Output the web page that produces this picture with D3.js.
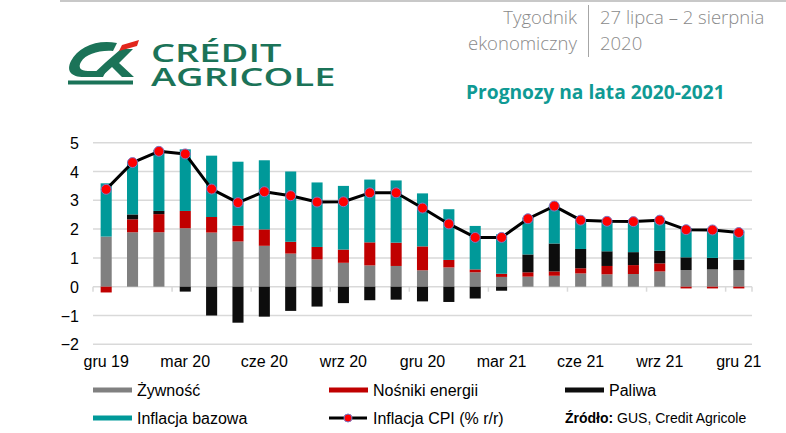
<!DOCTYPE html>
<html>
<head>
<meta charset="utf-8">
<script src="https://cdn.jsdelivr.net/npm/d3@7/dist/d3.min.js"></script>
<style>
  html, body { margin: 0; padding: 0; background: #fff; }
  svg { display: block; }
</style>
</head>
<body>
<svg id="chart" width="786" height="433"></svg>
<script>
// ---------------- DATA ----------------
const months = ["gru 19","sty 20","lut 20","mar 20","kwi 20","maj 20","cze 20","lip 20","sie 20","wrz 20","paź 20","lis 20","gru 20","sty 21","lut 21","mar 21","kwi 21","maj 21","cze 21","lip 21","sie 21","wrz 21","paź 21","lis 21","gru 21"];
const tickLabels = ["gru 19","mar 20","cze 20","wrz 20","gru 20","mar 21","cze 21","wrz 21","gru 21"];
const yTicks = [-2,-1,0,1,2,3,4,5];

const food   = [1.74,1.89,1.89,2.03,1.88,1.57,1.42,1.15,0.95,0.83,0.74,0.72,0.57,0.67,0.50,0.34,0.35,0.38,0.46,0.43,0.44,0.53,0.58,0.60,0.57];
const energy = [-0.20,0.45,0.63,0.60,0.54,0.55,0.57,0.41,0.43,0.46,0.80,0.81,0.83,0.26,0.10,0.11,0.15,0.15,0.18,0.29,0.31,0.28,-0.06,-0.06,-0.06];
const fuel   = [0,0.17,0.11,-0.17,-1.00,-1.25,-1.04,-0.84,-0.69,-0.57,-0.47,-0.45,-0.51,-0.53,-0.41,-0.14,0.62,0.97,0.67,0.51,0.45,0.44,0.44,0.40,0.37];
const core   = [1.85,1.83,2.12,2.14,2.13,2.22,2.40,2.44,2.24,2.21,2.18,2.16,1.84,1.76,1.51,1.37,1.28,1.32,1.00,1.04,1.06,1.05,1.02,1.03,1.01];
const cpi    = [3.38,4.31,4.70,4.61,3.39,2.92,3.30,3.16,2.94,2.95,3.26,3.26,2.73,2.18,1.71,1.71,2.36,2.80,2.31,2.27,2.26,2.31,1.98,1.97,1.88];

const seriesKeys   = ["food","energy","fuel","core"];
const seriesNames  = ["Żywność","Nośniki energii","Paliwa","Inflacja bazowa"];
const seriesColors = ["#808080","#c00000","#0d0d0d","#009999"];
const cpiName = "Inflacja CPI (% r/r)";

// ---------------- SETUP ----------------
const svg = d3.select("#chart");
const font = "'Liberation Sans', Arial, sans-serif";

const rows = months.map((m, i) => ({ month: m, food: food[i], energy: energy[i], fuel: fuel[i], core: core[i], cpi: cpi[i] }));

const x = d3.scaleBand().domain(months).range([93, 752]).paddingInner(0.58).paddingOuter(0.29);
const y = d3.scaleLinear().domain([-2, 5]).range([344.3, 142.7]);

// ---------------- HEADER ----------------
svg.append("line").attr("x1", 60).attr("x2", 786).attr("y1", 1).attr("y2", 1)
  .attr("stroke", "#c8c8c8").attr("stroke-width", 2);

const hdrFont = "'Open Sans', 'Noto Sans', sans-serif";
const hdr = svg.append("g").attr("font-family", hdrFont).attr("font-size", 18.5).attr("font-weight", 300).attr("fill", "#8a8a8a");
hdr.append("text").attr("x", 577).attr("y", 24).attr("text-anchor", "end").text("Tygodnik");
hdr.append("text").attr("x", 577).attr("y", 50).attr("text-anchor", "end").text("ekonomiczny");
hdr.append("text").attr("x", 600).attr("y", 24).text("27 lipca – 2 sierpnia");
hdr.append("text").attr("x", 600).attr("y", 50).text("2020");
svg.append("line").attr("x1", 588.5).attr("x2", 588.5).attr("y1", 5).attr("y2", 57)
  .attr("stroke", "#a6a6a6").attr("stroke-width", 1);

svg.append("text").attr("x", 466).attr("y", 99)
  .attr("font-family", hdrFont).attr("font-size", 19.2).attr("font-weight", 700)
  .attr("fill", "#0f9a94").text("Prognozy na lata 2020-2021");

// Logo
const logo = svg.append("g");
const green = "#1b7358";
logo.append("rect").attr("x", 68).attr("y", 80.5).attr("width", 65).attr("height", 4).attr("fill", green);
// C swoosh
logo.append("path").attr("fill", green)
  .attr("d", "M117,43 C97,39 78,47 71,61 C66,71 71,77 84,77 L103,77 L106,71 L88,71 C80,71 78,67 81,62 C86,54 99,50 113,51 Z");
// A strokes
logo.append("path").attr("fill", green)
  .attr("d", "M121,49 L133,49 L119,63 L134,77 L122,77 L112,67 L101,77 L90,77 L106,62 Z");
// red stripe
logo.append("path").attr("fill", "#e2261c")
  .attr("d", "M122,45 L139,40 L137,46 L119,51 Z");
const sx = 1.52;
const logoText = logo.append("text")
  .attr("transform", `scale(${sx},1)`)
  .attr("font-family", "'Open Sans', 'Noto Sans', sans-serif")
  .attr("font-weight", 600).attr("font-size", 25).attr("fill", green);
logoText.append("tspan").attr("x", 151 / sx).attr("y", 62).text("CRÉDIT");
logoText.append("tspan").attr("x", 151 / sx).attr("y", 86).text("AGRICOLE");

// ---------------- GRID + Y AXIS ----------------
const grid = svg.append("g");
grid.selectAll("line").data(yTicks).join("line")
  .attr("x1", 93).attr("x2", 752)
  .attr("y1", d => y(d)).attr("y2", d => y(d))
  .attr("stroke", "#d9d9d9").attr("stroke-width", 1.5);

const yAxis = d3.axisLeft(y).tickValues(yTicks).tickSize(0).tickPadding(0).tickFormat(d3.format("d"));
const yG = svg.append("g").attr("transform", "translate(79,0)").call(yAxis);
yG.select(".domain").remove();
yG.selectAll("text").attr("font-family", font).attr("font-size", 16).attr("fill", "#000").attr("dy", "0.35em");

// ---------------- BARS ----------------
const stack = d3.stack().keys(seriesKeys).offset(d3.stackOffsetDiverging);
const stacked = stack(rows);

svg.append("g").selectAll("g").data(stacked).join("g")
  .attr("fill", (d, i) => seriesColors[i])
  .selectAll("rect").data(d => d).join("rect")
  .attr("x", d => x(d.data.month))
  .attr("width", x.bandwidth())
  .attr("y", d => y(Math.max(d[0], d[1])))
  .attr("height", d => Math.abs(y(d[0]) - y(d[1])));

// zero-axis ticks at band boundaries every 3 months
const step = x.step();
const boundaryTicks = months.map((m, i) => i).filter(i => i % 3 === 0).map(i => x(months[i]) - x.paddingInner() * step / 2);
boundaryTicks.push(752);
svg.append("g").selectAll("line").data(boundaryTicks).join("line")
  .attr("x1", d => d).attr("x2", d => d)
  .attr("y1", y(0)).attr("y2", y(0) + 5)
  .attr("stroke", "#d9d9d9").attr("stroke-width", 1.5);

// ---------------- X AXIS LABELS ----------------
const xAxis = d3.axisBottom(x).tickValues(tickLabels).tickSize(0).tickPadding(0);
const xG = svg.append("g").attr("transform", "translate(0,355)").call(xAxis);
xG.select(".domain").remove();
xG.selectAll("text").attr("font-family", font).attr("font-size", 16).attr("fill", "#000").attr("dy", "0.78em");

// ---------------- CPI LINE ----------------
const cx = d => x(d.month) + x.bandwidth() / 2;
svg.append("path").datum(rows)
  .attr("fill", "none").attr("stroke", "#000").attr("stroke-width", 3).attr("stroke-linejoin", "round")
  .attr("d", d3.line().x(cx).y(d => y(d.cpi)));
svg.append("g").selectAll("circle").data(rows).join("circle")
  .attr("cx", cx).attr("cy", d => y(d.cpi)).attr("r", 5)
  .attr("fill", "#ff0000").attr("stroke", "#7a7ac8").attr("stroke-width", 1);

// ---------------- LEGEND ----------------
const leg = svg.append("g").attr("font-family", font).attr("font-size", 16).attr("fill", "#000");
const legItems = [
  { i: 0, x: 93, y: 390 },
  { i: 1, x: 329, y: 390 },
  { i: 2, x: 565, y: 390 },
  { i: 3, x: 93, y: 418 }
];
legItems.forEach(it => {
  leg.append("rect").attr("x", it.x).attr("y", it.y - 2.5).attr("width", 39).attr("height", 5).attr("fill", seriesColors[it.i]);
  leg.append("text").attr("x", it.x + 44).attr("y", it.y).attr("dy", "0.35em").text(seriesNames[it.i]);
});
leg.append("line").attr("x1", 329).attr("x2", 367).attr("y1", 418).attr("y2", 418).attr("stroke", "#000").attr("stroke-width", 3);
leg.append("circle").attr("cx", 348).attr("cy", 418).attr("r", 4).attr("fill", "#ff0000").attr("stroke", "#7a7ac8").attr("stroke-width", 1);
leg.append("text").attr("x", 373).attr("y", 418).attr("dy", "0.35em").text(cpiName);

const src = leg.append("text").attr("x", 565).attr("y", 418).attr("dy", "0.35em").attr("font-size", 14);
src.append("tspan").attr("font-weight", "bold").text("Źródło:");
src.append("tspan").text(" GUS, Credit Agricole");
</script>
</body>
</html>
